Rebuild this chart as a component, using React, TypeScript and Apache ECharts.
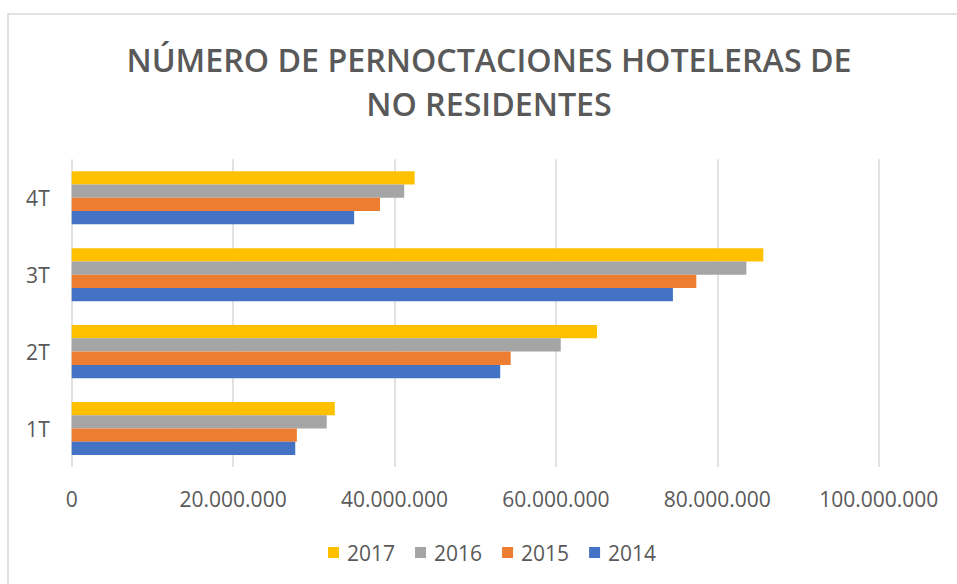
import React, { useEffect, useRef } from "react";
import * as echarts from "echarts";

const categories = ["1T", "2T", "3T", "4T"];
const years = ["2017", "2016", "2015", "2014"];
const values2017 = [32600000, 65100000, 85700000, 42500000];
const values2016 = [31600000, 60600000, 83600000, 41200000];
const values2015 = [27900000, 54400000, 77400000, 38200000];
const values2014 = [27700000, 53100000, 74500000, 35000000];
const colors = ["#FFC000", "#A5A5A5", "#ED7D31", "#4472C4"];
const titleText = "NÚMERO DE PERNOCTACIONES HOTELERAS DE\nNO RESIDENTES";

const FONT = "'Open Sans', sans-serif";
const GRAY = "#595959";

function fmt(v: number): string {
  return String(Math.round(v)).replace(/\B(?=(\d{3})+(?!\d))/g, ".");
}

export default function App() {
  const ref = useRef<HTMLDivElement>(null);
  useEffect(() => {
    if (!ref.current) return;
    const chart = echarts.init(ref.current, undefined, { renderer: "svg" });
    const seriesData = [values2017, values2016, values2015, values2014];
    chart.setOption({
      animation: false,
      backgroundColor: "#ffffff",
      title: {
        text: titleText,
        left: 489,
        top: 37,
        textAlign: "center",
        padding: 0,
        textStyle: {
          fontFamily: FONT,
          fontSize: 32.2,
          fontWeight: 600,
          color: GRAY,
          lineHeight: 44,
        },
      },
      graphic: [
        {
          type: "rect",
          shape: { x: 8, y: 14, width: 1200, height: 800 },
          style: { fill: "none", stroke: "#d9d9d9", lineWidth: 1.5 },
          silent: true,
          z: -1,
        },
      ],
      legend: {
        data: years,
        left: 328,
        top: 542,
        itemWidth: 11,
        itemHeight: 11,
        itemGap: 20,
        icon: "rect",
        padding: 0,
        textStyle: {
          fontFamily: FONT,
          fontSize: 21,
          lineHeight: 21,
          color: GRAY,
          padding: [0, 0, 0, 3],
        },
      },
      grid: {
        left: 71.7,
        right: 78.3,
        top: 159.3,
        bottom: 117,
        containLabel: false,
      },
      xAxis: {
        type: "value",
        min: 0,
        max: 100000000,
        interval: 20000000,
        axisLine: { show: false },
        axisTick: { show: false },
        splitLine: { show: true, lineStyle: { color: "#d9d9d9", width: 1.5 } },
        axisLabel: {
          fontFamily: FONT,
          fontSize: 21,
          lineHeight: 21,
          color: GRAY,
          margin: 21,
          formatter: (v: number) => fmt(v),
        },
      },
      yAxis: {
        type: "category",
        data: categories,
        axisLine: { show: false },
        axisTick: { show: false },
        axisLabel: {
          fontFamily: FONT,
          fontSize: 21,
          color: GRAY,
          margin: 22,
        },
      },
      series: years.map((y, i) => ({
        name: y,
        type: "bar",
        data: seriesData[i],
        itemStyle: { color: colors[i] },
        barGap: "0%",
        barCategoryGap: "31%",
      })),
    });
    return () => chart.dispose();
  }, []);
  return (
    <div
      ref={ref}
      style={{ position: "fixed", left: 0, top: 0, width: 957, height: 584 }}
    />
  );
}
